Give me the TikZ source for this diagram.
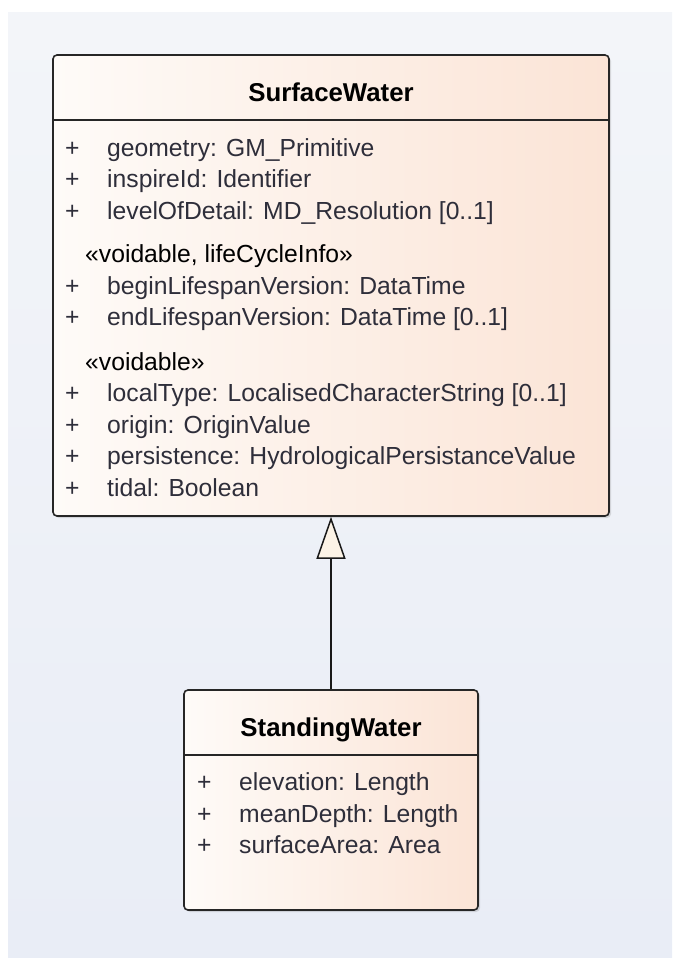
\documentclass[tikz,border=0pt]{standalone}
\usepackage{fontspec}
\setmainfont{Liberation Sans}
\usetikzlibrary{arrows.meta,shadows}
\definecolor{bgtop}{HTML}{F3F5F9}
\definecolor{bgbottom}{HTML}{E9EDF6}
\definecolor{boxleft}{HTML}{FEFBF8}
\definecolor{boxright}{HTML}{FBE4D6}
\definecolor{tipfill}{HTML}{FCF3E6}
\definecolor{attrcol}{HTML}{2E2E3A}
\begin{document}
\begin{tikzpicture}[x=1pt,y=-1pt,
  umlbox/.style={draw=black!85,line width=1.6pt,rounded corners=4pt,left color=boxleft,right color=boxright,
    drop shadow={shadow xshift=2pt,shadow yshift=-2pt,opacity=0.25}},
  title/.style={anchor=base,inner sep=0pt,font=\fontsize{25.8}{31}\selectfont\bfseries},
  attr/.style={anchor=base west,inner sep=0pt,text=attrcol,font=\fontsize{24.7}{31}\selectfont},
  stereo/.style={anchor=base west,inner sep=0pt,text=black,font=\fontsize{24.7}{31}\selectfont}]
\useasboundingbox (0,0) rectangle (672,958);
\fill[top color=bgtop,bottom color=bgbottom] (8,13) rectangle (672,958);
% SurfaceWater
\node[umlbox,minimum width=556pt,minimum height=461pt] (SurfaceWater) at (331,285.5) {};
\draw[line width=1.6pt,black!85] ([yshift=-66pt]SurfaceWater.north west) -- ([yshift=-66pt]SurfaceWater.north east);
\node[title] (SWtitle) at (331,101) {SurfaceWater};
\node[attr] (SWp1) at (65,156) {+};
\node[attr] (SWa1) at (107,156) {geometry: GM\_Primitive};
\node[attr] (SWp2) at (65,187.5) {+};
\node[attr] (SWa2) at (107,187.5) {inspireId: Identifier};
\node[attr] (SWp3) at (65,219) {+};
\node[attr] (SWa3) at (107,219) {levelOfDetail: MD\_Resolution [0..1]};
\node[stereo] (SWs1) at (85,262) {«voidable, lifeCycleInfo»};
\node[attr] (SWp4) at (65,294) {+};
\node[attr] (SWa4) at (107,294) {beginLifespanVersion: DataTime};
\node[attr] (SWp5) at (65,325.5) {+};
\node[attr] (SWa5) at (107,325.5) {endLifespanVersion: DataTime [0..1]};
\node[stereo] (SWs2) at (85,370) {«voidable»};
\node[attr] (SWp6) at (65,401.5) {+};
\node[attr] (SWa6) at (107,401.5) {localType: LocalisedCharacterString [0..1]};
\node[attr] (SWp7) at (65,433) {+};
\node[attr] (SWa7) at (107,433) {origin: OriginValue};
\node[attr] (SWp8) at (65,464.5) {+};
\node[attr] (SWa8) at (107,464.5) {persistence: HydrologicalPersistanceValue};
\node[attr] (SWp9) at (65,496) {+};
\node[attr] (SWa9) at (107,496) {tidal: Boolean};
% StandingWater
\node[umlbox,minimum width=294pt,minimum height=220pt] (StandingWater) at (331,800) {};
\draw[line width=1.6pt,black!85] ([yshift=-66pt]StandingWater.north west) -- ([yshift=-66pt]StandingWater.north east);
\node[title] (STtitle) at (331,736) {StandingWater};
\node[attr] (STp1) at (197,790.5) {+};
\node[attr] (STa1) at (239,790.5) {elevation: Length};
\node[attr] (STp2) at (197,822) {+};
\node[attr] (STa2) at (239,822) {meanDepth: Length};
\node[attr] (STp3) at (197,853.5) {+};
\node[attr] (STa3) at (239,853.5) {surfaceArea: Area};
% generalization
\draw[line width=1.5pt,black!90,-{Triangle[length=42pt,width=29pt,fill=tipfill]}] (StandingWater.north) -- (SurfaceWater.south);
\end{tikzpicture}
\end{document}
